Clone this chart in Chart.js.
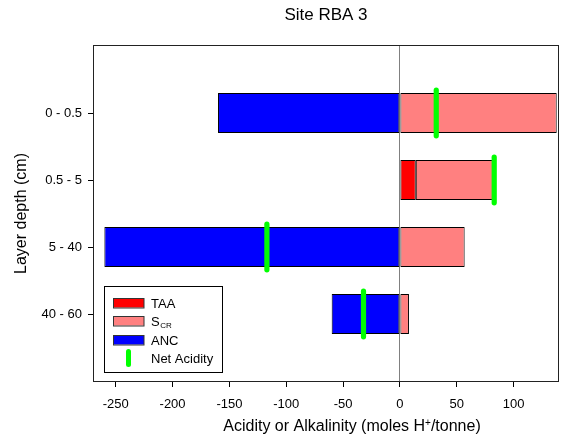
<!DOCTYPE html>
<html>
<head>
<meta charset="utf-8">
<style>
  html, body { margin: 0; padding: 0; background: #fff; }
  canvas { display: block; }
</style>
</head>
<body>
<canvas id="chart" width="561" height="444"></canvas>
<script src="https://cdn.jsdelivr.net/npm/chart.js@4/dist/chart.umd.min.js"></script>
<script>
// Soil layers (top to bottom) and acidity components, moles H+/tonne
const layers = ['0 - 0.5', '0.5 - 5', '5 - 40', '40 - 60'];
const taa = [0, 14, 0, 0];
const scr = [138, 69, 57, 8];
const anc = [-160, 0, -260, -60];
const netAcidity = [32, 83, -117, -32];
const xTicks = [-250, -200, -150, -100, -50, 0, 50, 100];

const FONT = "'Liberation Sans', Arial, Helvetica, sans-serif";
Chart.defaults.font.family = FONT;
Chart.defaults.color = '#000';

const rows = values => values.map((v, i) => ({ x: v, y: i + 1 }));

// Round line caps for the net-acidity markers
const roundCaps = {
  id: 'roundCaps',
  beforeDatasetDraw(chart, args) {
    if (args.meta.type === 'scatter') chart.ctx.lineCap = 'round';
  },
  afterDatasetDraw(chart, args) {
    if (args.meta.type === 'scatter') chart.ctx.lineCap = 'butt';
  }
};

// Plot frame, x-axis title with superscript, and boxed legend inside the plot
const frameAndLegend = {
  id: 'frameAndLegend',
  afterDraw(chart) {
    const { ctx, chartArea: a } = chart;
    ctx.save();

    // frame
    ctx.strokeStyle = '#222';
    ctx.lineWidth = 1;
    ctx.strokeRect(a.left + 0.5, a.top - 0.5, a.right - a.left - 1, a.bottom - a.top + 1);

    // x-axis title: "Acidity or Alkalinity (moles H+/tonne)"
    const main = '16px ' + FONT, sup = '10px ' + FONT;
    const p1 = 'Acidity or Alkalinity (moles H', p2 = '+', p3 = '/tonne)';
    ctx.font = main; const w1 = ctx.measureText(p1).width, w3 = ctx.measureText(p3).width;
    ctx.font = sup;  const w2 = ctx.measureText(p2).width;
    let tx = 352 - (w1 + w2 + w3) / 2;
    const ty = 431;
    ctx.fillStyle = '#000';
    ctx.textAlign = 'left';
    ctx.textBaseline = 'alphabetic';
    ctx.font = main; ctx.fillText(p1, tx, ty); tx += w1;
    ctx.font = sup;  ctx.fillText(p2, tx, ty - 5); tx += w2;
    ctx.font = main; ctx.fillText(p3, tx, ty);

    // legend
    const box = { x: 104.5, y: 286.5, w: 118, h: 86 };
    ctx.fillStyle = '#fff';
    ctx.fillRect(box.x, box.y, box.w, box.h);
    ctx.strokeStyle = '#000';
    ctx.strokeRect(box.x, box.y, box.w, box.h);

    const ds = chart.data.datasets;
    const rowsY = [303, 321, 340, 358];
    const textX = 151;
    ds.forEach((d, i) => {
      const cy = rowsY[i];
      if (d.type === 'scatter') {
        ctx.strokeStyle = d.borderColor;
        ctx.lineWidth = 5;
        ctx.lineCap = 'round';
        ctx.beginPath();
        ctx.moveTo(128.5, cy - 6.5);
        ctx.lineTo(128.5, cy + 6.5);
        ctx.stroke();
        ctx.lineCap = 'butt';
      } else {
        ctx.fillStyle = d.backgroundColor;
        ctx.fillRect(114, cy - 4.5, 30, 9);
        ctx.strokeStyle = '#333';
        ctx.lineWidth = 1;
        ctx.strokeRect(113.5, cy - 4.5, 30.5, 9.5);
      }
      ctx.fillStyle = '#000';
      ctx.textBaseline = 'alphabetic';
      const [base, sub] = d.label.split('_');
      ctx.font = '13px ' + FONT;
      ctx.fillText(base, textX, cy + 4.8);
      if (sub) {
        const bw = ctx.measureText(base).width;
        ctx.font = '8px ' + FONT;
        ctx.fillText(sub, textX + bw + 0.5, cy + 6.5);
      }
    });
    ctx.restore();
  }
};

new Chart(document.getElementById('chart'), {
  type: 'bar',
  data: {
    datasets: [
      { label: 'TAA', data: rows(taa), backgroundColor: '#ff0000' },
      { label: 'S_CR', data: rows(scr), backgroundColor: '#ff8080' },
      { label: 'ANC', data: rows(anc), backgroundColor: '#0000ff' },
      {
        type: 'scatter', label: 'Net Acidity', data: rows(netAcidity), stack: 'net', order: -1,
        pointStyle: 'line', rotation: 90, pointRadius: 22.8, pointHoverRadius: 22.8,
        borderColor: '#00ff00', backgroundColor: '#00ff00', borderWidth: 5.2, pointBorderWidth: 5.2
      }
    ]
  },
  options: {
    responsive: false,
    animation: false,
    events: [],
    indexAxis: 'y',
    layout: { autoPadding: false, padding: { left: 0, right: 2, top: 0, bottom: 0 } },
    datasets: {
      bar: {
        categoryPercentage: 1,
        barPercentage: 0.6,
        borderColor: '#000',
        borderWidth: 1,
        borderSkipped: false,
        inflateAmount: 0
      }
    },
    plugins: {
      legend: { display: false },
      tooltip: { enabled: false },
      title: {
        display: true,
        fullSize: false,
        text: 'Site RBA 3',
        color: '#000',
        font: { size: 17, weight: 'normal' },
        padding: { top: 5.5, bottom: 20.1 }
      }
    },
    scales: {
      x: {
        type: 'linear',
        min: -270,
        max: 140,
        stacked: true,
        afterBuildTicks: s => { s.ticks = xTicks.map(v => ({ value: v })); },
        afterFit: s => { s.height = 63; },
        border: { display: false },
        grid: {
          color: c => (c.tick && c.tick.value === 0 ? '#808080' : 'rgba(0,0,0,0)'),
          lineWidth: 1,
          tickColor: '#000',
          tickWidth: 1,
          tickLength: 6
        },
        ticks: { font: { size: 13 }, padding: 10, color: '#000' }
      },
      y: {
        type: 'linear',
        reverse: true,
        offset: false,
        min: 0,
        max: 5,
        stacked: true,
        afterBuildTicks: s => { s.ticks = layers.map((_, i) => ({ value: i + 1 })); },
        afterFit: s => { s.width = 93; },
        border: { display: false },
        grid: {
          offset: false,
          color: 'rgba(0,0,0,0)',
          tickColor: '#000',
          tickWidth: 1,
          tickLength: 5
        },
        ticks: {
          font: { size: 13 },
          padding: 6,
          color: '#000',
          callback: v => layers[v - 1]
        },
        title: {
          display: true,
          text: 'Layer depth (cm)',
          color: '#000',
          font: { size: 16 },
          padding: { top: 12, bottom: 0 }
        }
      }
    }
  },
  plugins: [roundCaps, frameAndLegend]
});
</script>
</body>
</html>
